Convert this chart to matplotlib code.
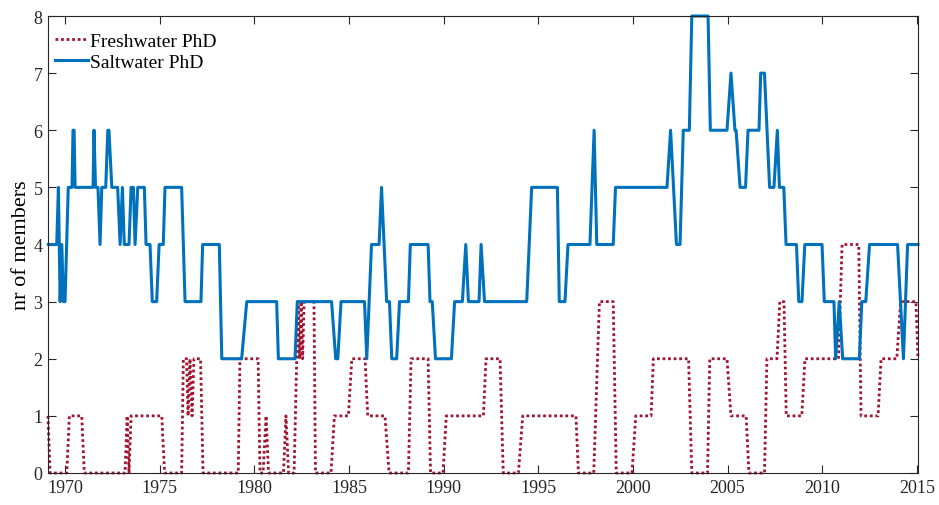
import matplotlib.pyplot as plt

# Freshwater PhD members (year, count)
fresh_year = [
    1969.10, 1969.21, 1970.09, 1970.23, 1970.88, 1971.02, 1973.17, 1973.28,
    1973.38, 1973.49, 1975.11, 1975.26, 1976.16, 1976.25, 1976.42, 1976.50,
    1976.60, 1976.71, 1976.81, 1977.16, 1977.29, 1979.15, 1979.24, 1980.20,
    1980.30, 1980.46, 1980.62, 1980.75, 1981.54, 1981.67, 1981.81, 1982.10,
    1982.31, 1982.39, 1982.47, 1982.55, 1982.63, 1983.15, 1983.23, 1984.05,
    1984.23, 1984.97, 1985.15, 1985.85, 1985.99, 1986.90, 1987.12, 1988.14,
    1988.28, 1989.18, 1989.31, 1989.97, 1990.14, 1992.10, 1992.24, 1992.98,
    1993.15, 1993.95, 1994.18, 1996.99, 1997.12, 1997.93, 1998.23, 1998.96,
    1999.12, 1999.95, 2000.15, 2000.96, 2001.08, 2002.94, 2003.11, 2003.94,
    2004.06, 2004.97, 2005.18, 2005.98, 2006.13, 2006.95, 2007.08, 2007.61,
    2007.76, 2007.98, 2008.10, 2008.92, 2009.09, 2010.86, 2011.05, 2011.93,
    2012.05, 2012.95, 2013.11, 2013.94, 2014.14, 2014.95, 2015.06,
]
fresh_count = [
    1, 0, 0, 1, 1, 0, 0, 1,
    0, 1, 1, 0, 0, 2, 2, 1,
    2, 1, 2, 2, 0, 0, 2, 2,
    0, 0, 1, 0, 0, 1, 0, 0,
    3, 2, 3, 2, 3, 3, 0, 0,
    1, 1, 2, 2, 1, 1, 0, 0,
    2, 2, 0, 0, 1, 1, 2, 2,
    0, 0, 1, 1, 0, 0, 3, 3,
    0, 0, 1, 1, 2, 2, 0, 0,
    2, 2, 1, 1, 0, 0, 2, 2,
    3, 3, 1, 1, 2, 2, 4, 4,
    1, 1, 2, 2, 3, 3, 2,
]

# Saltwater PhD members
salt_year = [
    1969.12, 1969.56, 1969.65, 1969.74, 1969.83, 1969.91, 1970.00, 1970.17,
    1970.37, 1970.42, 1970.48, 1970.53, 1971.48, 1971.53, 1971.61, 1971.74,
    1971.85, 1971.94, 1972.15, 1972.26, 1972.32, 1972.47, 1972.78, 1972.91,
    1973.03, 1973.13, 1973.38, 1973.49, 1973.61, 1973.70, 1973.84, 1974.19,
    1974.28, 1974.49, 1974.61, 1974.84, 1974.97, 1975.19, 1975.28, 1976.16,
    1976.34, 1977.18, 1977.27, 1978.15, 1978.28, 1979.33, 1979.60, 1981.18,
    1981.27, 1982.15, 1982.27, 1984.08, 1984.30, 1984.41, 1984.58, 1985.82,
    1985.94, 1986.19, 1986.59, 1986.72, 1986.99, 1987.14, 1987.26, 1987.52,
    1987.67, 1988.14, 1988.24, 1989.18, 1989.28, 1989.40, 1989.57, 1990.41,
    1990.58, 1990.99, 1991.17, 1991.31, 1991.87, 1991.98, 1992.16, 1994.39,
    1994.65, 1996.01, 1996.11, 1996.41, 1996.57, 1997.73, 1997.95, 1998.09,
    1998.96, 1999.08, 2001.80, 2001.99, 2002.30, 2002.49, 2002.66, 2002.98,
    2003.11, 2003.97, 2004.09, 2004.97, 2005.18, 2005.39, 2005.45, 2005.66,
    2005.95, 2006.08, 2006.66, 2006.75, 2006.95, 2007.22, 2007.45, 2007.63,
    2007.74, 2007.97, 2008.09, 2008.64, 2008.76, 2008.93, 2009.08, 2009.99,
    2010.11, 2010.62, 2010.71, 2010.90, 2011.08, 2011.96, 2012.09, 2012.30,
    2012.50, 2013.98, 2014.29, 2014.51, 2015.06,
]
salt_count = [
    4, 4, 5, 3, 4, 3, 3, 5,
    5, 6, 6, 5, 5, 6, 5, 5,
    4, 5, 5, 6, 6, 5, 5, 4,
    5, 4, 4, 5, 5, 4, 5, 5,
    4, 4, 3, 3, 4, 4, 5, 5,
    3, 3, 4, 4, 2, 2, 3, 3,
    2, 2, 3, 3, 2, 2, 3, 3,
    2, 4, 4, 5, 3, 3, 2, 2,
    3, 3, 4, 4, 3, 3, 2, 2,
    3, 3, 4, 3, 3, 4, 3, 3,
    5, 5, 3, 3, 4, 4, 6, 4,
    4, 5, 5, 6, 4, 4, 6, 6,
    8, 8, 6, 6, 7, 6, 6, 5,
    5, 6, 6, 7, 7, 5, 5, 6,
    5, 5, 4, 4, 3, 3, 4, 4,
    3, 3, 2, 3, 2, 2, 3, 3,
    4, 4, 2, 4, 4,
]

plt.rcParams['font.family'] = ['Liberation Serif', 'DejaVu Serif']

fig = plt.figure(figsize=(9.39, 5.06), dpi=100)
ax = fig.add_axes([48 / 939, 1 - 474 / 506, 870 / 939, 457 / 506])

ax.plot(fresh_year, fresh_count, color='#A2142F', linestyle=(0, (1, 1)),
        linewidth=2.0, label='Freshwater PhD', clip_on=False)
ax.plot(salt_year, salt_count, color='#0072BD', linestyle='-',
        linewidth=2.2, label='Saltwater PhD', clip_on=False)

ax.set_xlim(1969.1, 2015.06)
ax.set_ylim(0, 8)
ax.set_xticks(range(1970, 2016, 5))
ax.set_yticks(range(0, 9))
ax.set_ylabel('nr of members', fontsize=16, labelpad=2)

ax.tick_params(direction='in', length=6, width=0.8, top=True, right=True,
               labelsize=13, colors='#262626', pad=4)
for sp in ax.spines.values():
    sp.set_color('#262626')
    sp.set_linewidth(0.8)

ax.legend(loc='upper left', bbox_to_anchor=(-4.5 / 870, 1 - 4.5 / 457),
          frameon=False, fontsize=14, handlelength=1.7, handletextpad=0.1,
          labelspacing=0.16, borderaxespad=0.3, borderpad=0.3)

fig.savefig('out.png', dpi=100)
